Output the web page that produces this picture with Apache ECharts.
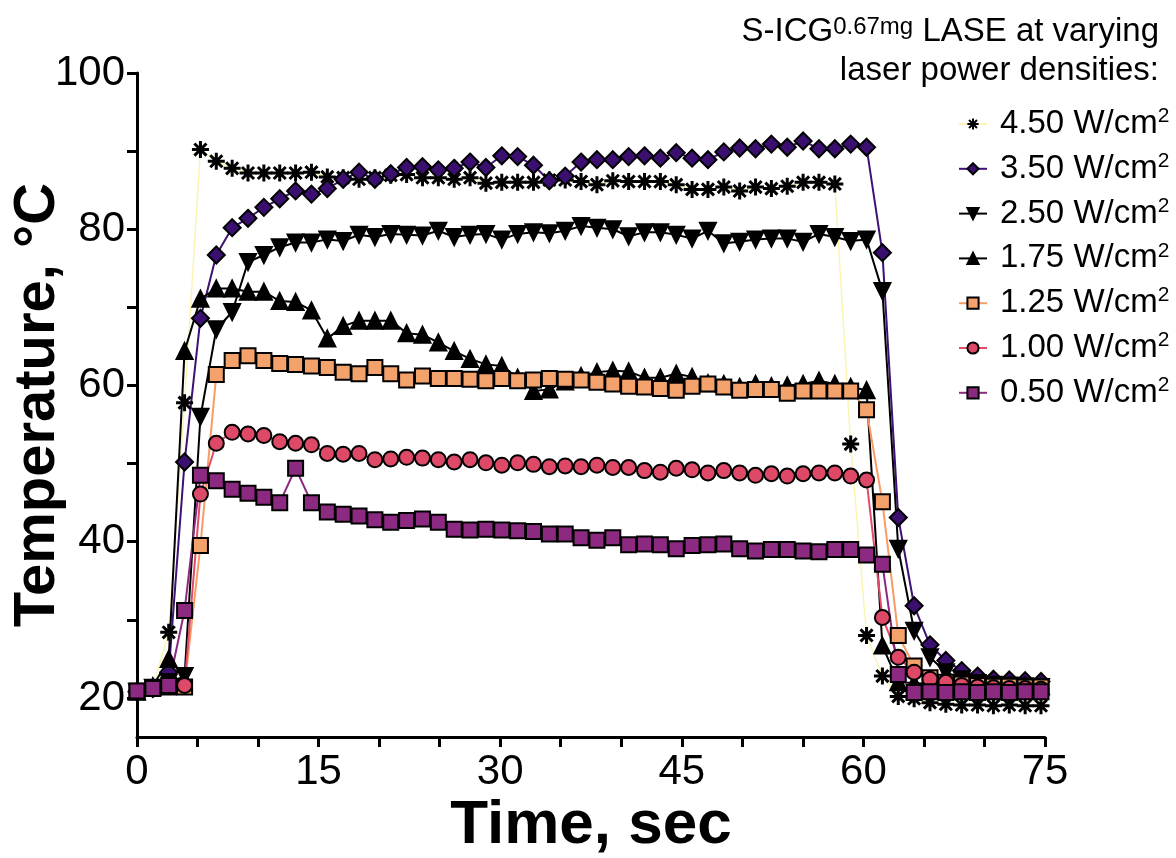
<!DOCTYPE html>
<html>
<head>
<meta charset="utf-8">
<title>S-ICG LASE temperature</title>
<script src="https://cdn.jsdelivr.net/npm/echarts@6/dist/echarts.min.js"></script>
<style>
  html, body { margin: 0; padding: 0; background: #fff; }
  #chart { width: 1176px; height: 858px; }
</style>
</head>
<body>
<div id="chart"></div>
<script>
// sample times (sec)
var times = [0, 1.31, 2.62, 3.93, 5.24, 6.55, 7.86, 9.17, 10.48, 11.79,
  13.1, 14.41, 15.72, 17.03, 18.34, 19.65, 20.96, 22.27, 23.58, 24.89,
  26.2, 27.51, 28.82, 30.13, 31.44, 32.75, 34.06, 35.37, 36.68, 37.99,
  39.3, 40.61, 41.92, 43.23, 44.54, 45.85, 47.16, 48.47, 49.78, 51.09,
  52.4, 53.71, 55.02, 56.33, 57.64, 58.95, 60.26, 61.57, 62.88, 64.19,
  65.5, 66.81, 68.12, 69.43, 70.74, 72.05, 73.36, 74.67];

// temperatures (°C) per power density
var p450 = [20.9, 21.3, 28.4, 57.8, 90.2, 88.7, 87.8, 87.2, 87.2, 87.2,
  87.2, 87.3, 86.7, 86.6, 86.4, 86.6, 86.9, 87.0, 86.6, 86.6,
  86.4, 86.6, 85.9, 86.0, 86.0, 86.0, 86.3, 86.3, 86.1, 85.7,
  86.2, 86.1, 86.1, 86.1, 85.7, 85.1, 85.1, 85.4, 84.9, 85.4,
  85.2, 85.5, 86.0, 86.0, 85.8, 52.5, 28.0, 22.8, 20.2, 19.9,
  19.4, 19.2, 19.1, 19.1, 19.0, 19.1, 19.0, 19.0];
var p350 = [20.8, 21.2, 23.3, 50.2, 68.6, 76.7, 80.2, 81.4, 82.8, 83.9,
  84.9, 84.5, 85.2, 86.4, 87.3, 86.4, 87.1, 87.9, 88.0, 87.6,
  87.8, 88.6, 87.9, 89.4, 89.3, 88.2, 86.2, 86.8, 88.6, 88.9,
  88.9, 89.3, 89.4, 89.1, 89.8, 89.1, 88.9, 89.9, 90.4, 90.3,
  90.9, 90.5, 91.3, 90.3, 90.3, 90.9, 90.5, 77.0, 43.1, 31.8,
  26.8, 24.8, 23.5, 22.8, 22.4, 22.3, 22.2, 22.1];
var p250 = [20.8, 21.3, 22.0, 22.8, 56.0, 67.2, 69.4, 75.8, 76.7, 77.7,
  78.3, 78.3, 78.7, 78.5, 79.3, 79.0, 79.4, 79.3, 79.2, 79.8,
  79.0, 79.3, 79.4, 78.7, 79.4, 79.6, 79.5, 79.8, 80.4, 80.2,
  80.0, 79.1, 79.6, 79.6, 79.3, 78.8, 79.8, 78.2, 78.4, 78.7,
  78.8, 78.8, 78.4, 79.4, 79.0, 78.5, 78.7, 72.1, 39.1, 28.6,
  25.2, 23.3, 22.4, 21.9, 21.7, 21.6, 21.5, 21.4];
var p175 = [20.8, 21.5, 25.0, 64.4, 71.1, 72.4, 72.4, 72.0, 72.0, 70.8,
  70.7, 69.6, 66.0, 67.6, 68.3, 68.3, 68.3, 66.7, 66.5, 65.5,
  64.4, 63.4, 62.7, 62.5, 61.0, 59.3, 59.5, 60.5, 61.2, 61.7,
  61.9, 61.8, 61.0, 61.0, 61.5, 61.1, 60.3, 60.2, 59.8, 60.2,
  59.9, 60.0, 60.2, 60.6, 60.2, 59.8, 59.4, 26.7, 22.0, 21.9,
  21.8, 21.8, 21.7, 21.7, 21.6, 21.6, 21.6, 21.5];
var p125 = [20.8, 21.3, 21.4, 21.4, 39.5, 61.4, 63.2, 63.8, 63.2, 62.8,
  62.7, 62.5, 62.3, 61.7, 61.5, 62.3, 61.5, 60.7, 61.2, 60.9,
  60.9, 60.8, 60.6, 60.9, 60.6, 60.7, 60.9, 60.8, 60.7, 60.4,
  60.2, 59.9, 59.8, 59.6, 59.4, 59.9, 60.2, 59.8, 59.4, 59.5,
  59.5, 59.0, 59.3, 59.3, 59.3, 59.3, 56.9, 45.1, 28.0, 24.1,
  22.6, 22.0, 21.8, 21.6, 21.5, 21.5, 21.4, 21.4];
var p100 = [20.8, 21.2, 21.5, 21.6, 46.1, 52.6, 54.0, 53.8, 53.6, 52.8,
  52.6, 52.4, 51.3, 51.2, 51.3, 50.5, 50.6, 50.8, 50.7, 50.5,
  50.2, 50.5, 50.1, 49.8, 50.1, 49.9, 49.6, 49.7, 49.6, 49.8,
  49.5, 49.5, 49.1, 48.9, 49.4, 49.2, 48.8, 49.1, 48.8, 48.5,
  48.7, 48.4, 48.7, 48.8, 48.8, 48.4, 47.9, 30.3, 25.2, 23.3,
  22.4, 22.0, 21.6, 21.4, 21.3, 21.2, 21.2, 21.1];
var p050 = [20.9, 21.2, 21.6, 31.2, 48.5, 47.8, 46.7, 46.2, 45.7, 45.0,
  49.4, 45.0, 43.8, 43.5, 43.3, 42.8, 42.5, 42.7, 42.9, 42.5,
  41.6, 41.5, 41.6, 41.5, 41.4, 41.3, 41.0, 41.0, 40.5, 40.2,
  40.5, 39.6, 39.7, 39.6, 39.1, 39.5, 39.6, 39.7, 39.1, 38.8,
  39.0, 39.0, 38.8, 38.7, 39.0, 39.0, 38.3, 37.1, 23.0, 20.7,
  20.8, 20.7, 20.8, 20.7, 20.8, 20.7, 20.8, 20.8];

var seriesNames = ['4.50 W/cm²', '3.50 W/cm²', '2.50 W/cm²', '1.75 W/cm²',
  '1.25 W/cm²', '1.00 W/cm²', '0.50 W/cm²'];
var xLabels = [0, 15, 30, 45, 60, 75];
var xTicks = [0, 5, 10, 15, 20, 25, 30, 35, 40, 45, 50, 55, 60, 65, 70, 75];
var yLabels = [20, 40, 60, 80, 100];
var yTicks = [20, 30, 40, 50, 60, 70, 80, 90, 100];

var FONT = '"Liberation Sans", Arial, Helvetica, sans-serif';
var ASTERISK = 'path://M10,0L10,20M0,10L20,10M2.9,2.9L17.1,17.1M2.9,17.1L17.1,2.9';

function pairs(arr) {
  return arr.map(function (v, i) { return [times[i], v]; });
}

function makeSeries(name, data, opts) {
  return {
    name: name,
    type: 'line',
    data: pairs(data),
    symbol: opts.symbol,
    symbolSize: opts.size || 15,
    symbolRotate: opts.rotate || 0,
    showAllSymbol: true,
    lineStyle: { color: opts.line, width: opts.lineWidth || 2 },
    itemStyle: {
      color: opts.fill,
      borderColor: '#000',
      borderWidth: opts.border || 2
    },
    emphasis: { disabled: true },
    animation: false
  };
}

var chart = echarts.init(document.getElementById('chart'));

chart.setOption({
  backgroundColor: '#fff',
  textStyle: { fontFamily: FONT },
  title: [
    {
      text: 'S-ICG{sup|0.67mg} LASE at varying',
      right: 12,
      top: 10,
      textStyle: {
        fontFamily: FONT, fontSize: 33, fontWeight: 'normal', color: '#000',
        rich: { sup: { fontFamily: FONT, fontSize: 24, lineHeight: 22, verticalAlign: 'top', color: '#000' } }
      }
    },
    {
      text: 'laser power densities:',
      right: 12,
      top: 49,
      textStyle: { fontFamily: FONT, fontSize: 33, fontWeight: 'normal', color: '#000' }
    }
  ],
  legend: {
    data: seriesNames,
    orient: 'vertical',
    left: 953,
    top: 101,
    itemWidth: 28,
    itemHeight: 14,
    itemGap: 8.8,
    selectedMode: false,
    formatter: function (name) { return name.replace('²', '{sup|2}'); },
    textStyle: {
      fontFamily: FONT, fontSize: 33, color: '#000', lineHeight: 36,
      padding: [0, 0, 0, 8],
      rich: { sup: { fontFamily: FONT, fontSize: 21, lineHeight: 22, verticalAlign: 'top', color: '#000' } }
    }
  },
  grid: { left: 137, right: 131, top: 73, bottom: 121, containLabel: false, outerBoundsMode: 'none' },
  xAxis: {
    type: 'value',
    min: 0,
    max: 75,
    name: 'Time, sec',
    nameLocation: 'middle',
    nameGap: 58,
    nameMoveOverlap: false,
    nameTextStyle: { fontFamily: FONT, fontSize: 62, fontWeight: 'bold', color: '#000' },
    axisLine: { lineStyle: { color: '#000', width: 3 } },
    axisTick: { length: 10, lineStyle: { color: '#000', width: 3 }, customValues: xTicks },
    axisLabel: { fontSize: 42, color: '#000', margin: 14, customValues: xLabels },
    splitLine: { show: false }
  },
  yAxis: {
    type: 'value',
    min: 15,
    max: 100,
    name: 'Temperature, °C',
    nameLocation: 'middle',
    nameRotate: 90,
    nameGap: 70,
    nameMoveOverlap: false,
    nameTextStyle: { fontFamily: FONT, fontSize: 58, fontWeight: 'bold', color: '#000' },
    axisLine: { lineStyle: { color: '#000', width: 3 } },
    axisTick: { length: 10, lineStyle: { color: '#000', width: 3 }, customValues: yTicks },
    axisLabel: { fontSize: 42, color: '#000', margin: 12, customValues: yLabels },
    splitLine: { show: false }
  },
  series: [
    makeSeries(seriesNames[0], p450, { symbol: ASTERISK, size: 17, line: '#fbf5b5', lineWidth: 1.5, fill: '#000', border: 3 }),
    makeSeries(seriesNames[1], p350, { symbol: 'diamond', size: 17, line: '#3d1272', fill: '#3b0f70' }),
    makeSeries(seriesNames[2], p250, { symbol: 'triangle', rotate: 180, size: 16, line: '#000', fill: '#000' }),
    makeSeries(seriesNames[3], p175, { symbol: 'triangle', size: 16, line: '#000', fill: '#000' }),
    makeSeries(seriesNames[4], p125, { symbol: 'rect', size: 15, line: '#f99b65', fill: '#f4a26c' }),
    makeSeries(seriesNames[5], p100, { symbol: 'circle', size: 15, line: '#e04c68', fill: '#de4968' }),
    makeSeries(seriesNames[6], p050, { symbol: 'rect', size: 15, line: '#8c2981', fill: '#8c2981' })
  ]
});
</script>
</body>
</html>
